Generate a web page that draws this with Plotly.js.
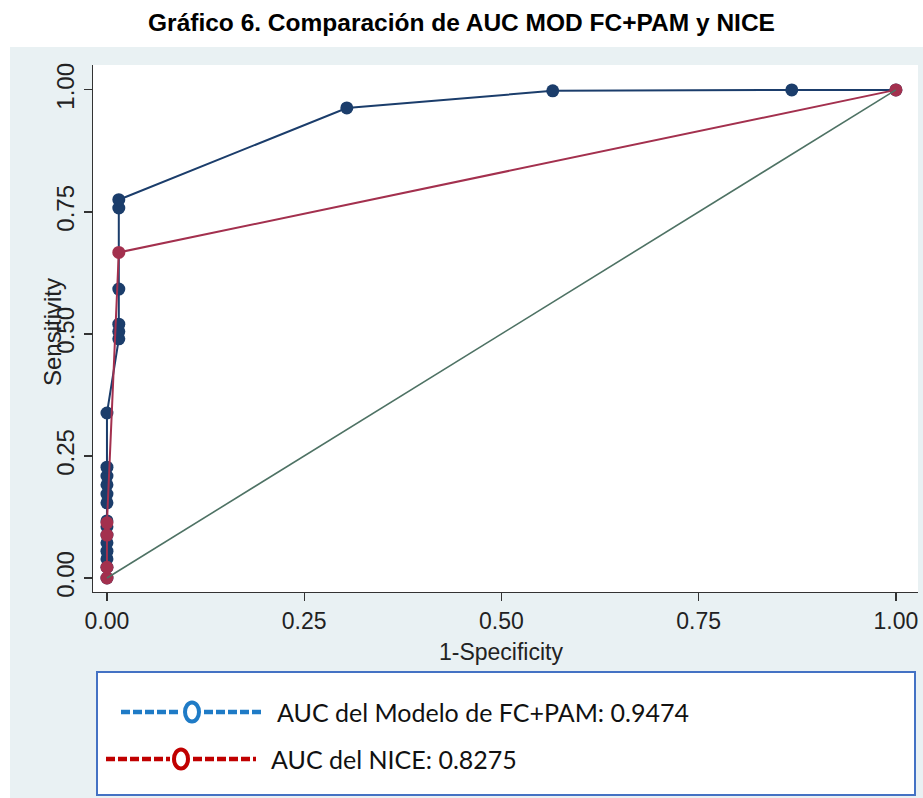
<!DOCTYPE html>
<html>
<head>
<meta charset="utf-8">
<script src="https://cdn.plot.ly/plotly-3.0.1.min.js"></script>
<style>html,body{margin:0;padding:0;background:#fff;}#chart{width:923px;height:798px;}</style>
</head>
<body>
<div id="chart"></div>
<script>
// FC+PAM model ROC points (1-Specificity, Sensitivity)
const modelX = [0, 0, 0, 0, 0, 0, 0, 0, 0, 0, 0, 0, 0, 0, 0.015, 0.015, 0.015, 0.015, 0.015, 0.015, 0.304, 0.565, 0.868, 1];
const modelY = [0, 0.022, 0.039, 0.055, 0.072, 0.088, 0.105, 0.117, 0.154, 0.172, 0.191, 0.209, 0.227, 0.338, 0.49, 0.505, 0.52, 0.592, 0.758, 0.775, 0.963, 0.998, 1, 1];
// NICE ROC points
const niceX = [0, 0, 0, 0, 0.015, 1];
const niceY = [0, 0.022, 0.088, 0.113, 0.667, 1];
// reference line
const refX = [0, 1];
const refY = [0, 1];
const xTicks = [0, 0.25, 0.5, 0.75, 1];
const xTickText = ['0.00', '0.25', '0.50', '0.75', '1.00'];
const yTicks = [0, 0.25, 0.5, 0.75, 1];
const yTickText = ['0.00', '0.25', '0.50', '0.75', '1.00'];
const titleText = 'Gráfico 6. Comparación de AUC MOD FC+PAM y NICE';
const xTitle = '1-Specificity';
const yTitle = 'Sensitivity';
const legendLabels = ['AUC del Modelo de FC+PAM: 0.9474', 'AUC del NICE: 0.8275'];
const legendColors = ['#1f7bc6', '#c00000'];

const navy = '#1b3d6b';
const maroon = '#a3304e';
const arial = 'Arial, "Liberation Sans", sans-serif';
const xFont = {family: arial, size: 23, color: '#222'};
const yFont = {family: arial, size: 24, color: '#222'};

// pixel -> paper helpers (plot area: x 93..918, y 65..592)
const px = v => (v - 93) / 825;
const py = v => (592 - v) / 527;

const traces = [
  {x: modelX, y: modelY, type: 'scatter', mode: 'lines+markers',
   line: {color: navy, width: 2}, marker: {color: navy, size: 13}, showlegend: false, hoverinfo: 'skip'},
  {x: niceX, y: niceY, type: 'scatter', mode: 'lines+markers',
   line: {color: maroon, width: 2}, marker: {color: maroon, size: 13}, showlegend: false, hoverinfo: 'skip'},
  {x: refX, y: refY, type: 'scatter', mode: 'lines',
   line: {color: '#4e7264', width: 1.6}, showlegend: false, hoverinfo: 'skip'}
];

// legend symbols "-----O-----" drawn as shapes
function legendSymbol(color, xStart, xO, xEnd, y) {
  return [
    {type: 'line', xref: 'paper', yref: 'paper', x0: px(xStart), x1: px(xO - 11), y0: py(y), y1: py(y),
     line: {color: color, width: 4.5, dash: '9px,3px'}, layer: 'above'},
    {type: 'line', xref: 'paper', yref: 'paper', x0: px(xO + 12), x1: px(xEnd), y0: py(y), y1: py(y),
     line: {color: color, width: 4.5, dash: '9px,3px'}, layer: 'above'},
    {type: 'circle', xref: 'paper', yref: 'paper', x0: px(xO - 7), x1: px(xO + 7), y0: py(y + 9.5), y1: py(y - 9.5),
     fillcolor: '#ffffff', line: {color: color, width: 4}, layer: 'above'}
  ];
}

const layout = {
  width: 923, height: 798,
  margin: {l: 93, r: 5, t: 65, b: 206},
  paper_bgcolor: '#ffffff',
  plot_bgcolor: 'rgba(0,0,0,0)',
  showlegend: false,
  title: {text: '<b>' + titleText + '</b>', x: 0.5, xref: 'container', xanchor: 'center', y: 1 - 22/798, yanchor: 'middle',
          font: {family: arial, size: 24.5, color: '#000'}},
  xaxis: {range: [-0.0177, 1.028], tickvals: xTicks, ticktext: xTickText, showgrid: false, zeroline: false,
          showline: true, linecolor: '#333', linewidth: 1.2, ticks: 'outside', ticklen: 8, tickcolor: '#333', tickwidth: 1.2,
          tickfont: xFont},
  yaxis: {range: [-0.0287, 1.051], tickvals: yTicks, ticktext: yTickText, showgrid: false, zeroline: false,
          showline: true, linecolor: '#333', linewidth: 1.2, ticks: 'outside', ticklen: 8, tickcolor: '#333', tickwidth: 1.2,
          tickfont: yFont, tickangle: -90},
  shapes: [
    {type: 'rect', xref: 'paper', yref: 'paper', x0: px(10), x1: px(923), y0: py(798), y1: py(47),
     fillcolor: '#e9f1f3', line: {width: 0}, layer: 'below'},
    {type: 'rect', xref: 'paper', yref: 'paper', x0: 0, x1: 1, y0: 0, y1: 1,
     fillcolor: '#ffffff', line: {width: 0}, layer: 'below'},
    {type: 'rect', xref: 'paper', yref: 'paper', x0: px(97), x1: px(915), y0: py(795), y1: py(672),
     fillcolor: '#ffffff', line: {color: '#4472c4', width: 2}, layer: 'above'}
  ].concat(legendSymbol(legendColors[0], 121, 192, 262, 712), legendSymbol(legendColors[1], 106, 181, 256, 759)),
  annotations: [
    {text: yTitle, xref: 'paper', yref: 'paper', x: px(52), y: py(332), textangle: -90, showarrow: false,
     xanchor: 'center', yanchor: 'middle', font: yFont},
    {text: xTitle, xref: 'paper', yref: 'paper', x: px(501), y: py(652), showarrow: false,
     xanchor: 'center', yanchor: 'middle', font: xFont},
    {text: legendLabels[0], xref: 'paper', yref: 'paper', x: px(275), y: py(712), showarrow: false,
     xanchor: 'left', yanchor: 'middle', font: {family: 'Lato, "Open Sans", sans-serif', size: 25, color: '#111'}},
    {text: legendLabels[1], xref: 'paper', yref: 'paper', x: px(269), y: py(759), showarrow: false,
     xanchor: 'left', yanchor: 'middle', font: {family: 'Lato, "Open Sans", sans-serif', size: 25, color: '#111'}}
  ]
};

Plotly.newPlot('chart', traces, layout, {staticPlot: true, displayModeBar: false});
</script>
</body>
</html>
